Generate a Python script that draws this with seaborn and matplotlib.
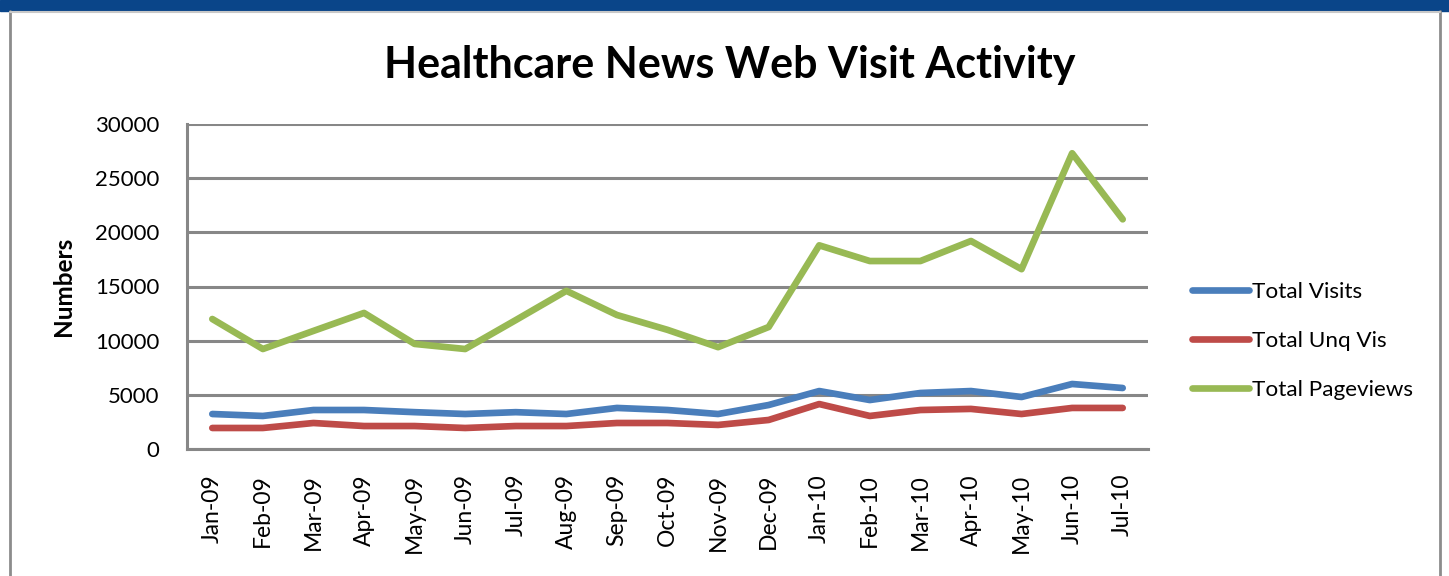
import matplotlib
matplotlib.use("Agg")
import matplotlib.pyplot as plt
import seaborn as sns
import pandas as pd
from matplotlib.patches import Rectangle
from matplotlib.lines import Line2D

months = ["Jan-09", "Feb-09", "Mar-09", "Apr-09", "May-09", "Jun-09", "Jul-09",
          "Aug-09", "Sep-09", "Oct-09", "Nov-09", "Dec-09", "Jan-10", "Feb-10",
          "Mar-10", "Apr-10", "May-10", "Jun-10", "Jul-10"]
total_visits = [3230, 3050, 3600, 3600, 3400, 3230, 3400, 3230, 3790, 3600, 3230,
                4060, 5350, 4520, 5170, 5350, 4800, 6000, 5630]
total_unq_vis = [1940, 1940, 2400, 2120, 2120, 1940, 2120, 2120, 2400, 2400, 2220,
                 2680, 4150, 3050, 3600, 3700, 3230, 3790, 3790]
total_pageviews = [12000, 9230, 10900, 12560, 9700, 9230, 11900, 14600, 12370, 11000,
                   9400, 11260, 18800, 17350, 17350, 19200, 16600, 27300, 21200]
series_names = ["Total Visits", "Total Unq Vis", "Total Pageviews"]
yticks = [0, 5000, 10000, 15000, 20000, 25000, 30000]

rows = []
for name, vals in zip(series_names, [total_visits, total_unq_vis, total_pageviews]):
    for i, (m, v) in enumerate(zip(months, vals)):
        rows.append({"idx": i, "month": m, "value": v, "series": name})
df = pd.DataFrame(rows)

sns.set_theme(style="white")
plt.rcParams['font.family'] = ['Lato', 'DejaVu Sans']
plt.rcParams['text.color'] = 'black'
plt.rcParams['xtick.color'] = 'black'
plt.rcParams['ytick.color'] = 'black'
plt.rcParams['axes.labelcolor'] = 'black'

fig = plt.figure(figsize=(14.49, 5.76), dpi=100)
# top blue band and frame
fig.patches.append(Rectangle((0, 1 - 11/576), 1, 11/576, transform=fig.transFigure,
                             color="#0A4589", zorder=0))
fig.add_artist(Line2D([10/1449, 10/1449], [0, 1 - 11/576], transform=fig.transFigure,
                      color="#8C8C8C", lw=2))
fig.add_artist(Line2D([1440/1449, 1440/1449], [0, 1 - 11/576], transform=fig.transFigure,
                      color="#8C8C8C", lw=2))
fig.add_artist(Line2D([10/1449, 1440/1449], [1 - 12/576, 1 - 12/576], transform=fig.transFigure,
                      color="#C8C8C8", lw=1.5))

ax = fig.add_axes([187/1449, 1 - 449/576, (1148 - 187)/1449, (449 - 124)/576])
palette = {"Total Visits": "#4A7EBB", "Total Unq Vis": "#BE4B48", "Total Pageviews": "#98B954"}
sns.lineplot(data=df, x="idx", y="value", hue="series", palette=palette, ax=ax,
             linewidth=4.8, legend=False, solid_capstyle="round", sort=False)

ax.set_xlim(-0.5, len(months) - 0.5)
ax.set_ylim(0, 30000)
ax.set_yticks(yticks)
ax.set_yticklabels([str(t) for t in yticks], fontsize=16)
ax.set_xticks(range(len(months)))
ax.set_xticklabels(months, rotation=90, fontsize=16.5)
ax.tick_params(axis="x", pad=18, length=0)
ax.tick_params(axis="y", pad=20, length=0)
ax.yaxis.grid(True, color="#878787", linewidth=2.2)
ax.set_axisbelow(True)
for s in ["top", "right"]:
    ax.spines[s].set_visible(False)
for s in ["left", "bottom"]:
    ax.spines[s].set_color("#878787")
    ax.spines[s].set_linewidth(2.2)
ax.set_xlabel("")
ax.set_ylabel("Numbers", fontsize=17.5, fontweight="bold", labelpad=14)

fig.text(730/1449, 1 - 65/576, "Healthcare News Web Visit Activity", ha="center", va="center",
         fontsize=31, fontweight="bold")

handles = [Line2D([0], [0], color=palette[n], lw=4.8, solid_capstyle="round") for n in series_names]
fig.legend(handles, series_names, loc="center left", bbox_to_anchor=(1172/1449, 1 - 341/576),
           frameon=False, fontsize=16.2, handlelength=2.5, handletextpad=0.15, labelspacing=1.3)

fig.savefig("out.png", dpi=100)
